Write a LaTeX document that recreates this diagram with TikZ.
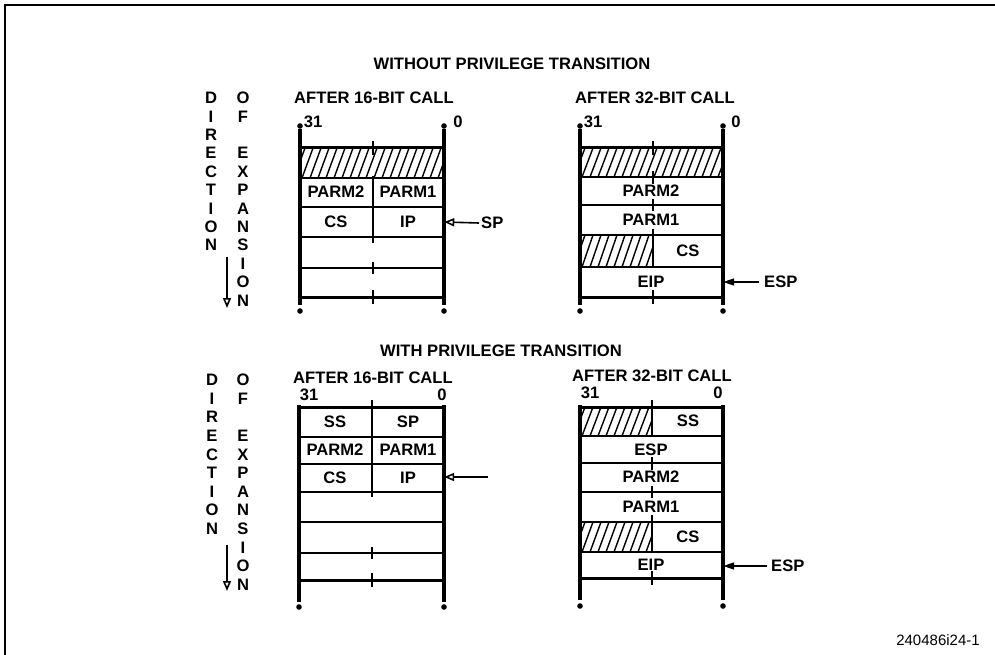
\documentclass[tikz,border=0pt]{standalone}
\usepackage{fontspec}
\setmainfont{Liberation Sans}
\usetikzlibrary{arrows.meta}
\newcommand\hatchbox[4]{%
  \begin{scope}
    \clip (#1,#2) rectangle (#3,#4);
    \foreach \k in {0,...,21} \draw[hatchline] ({#1-14+\k*8},#4) -- ++(11,{#2-#4});
  \end{scope}}
\begin{document}
\begin{tikzpicture}[x=1pt,y=-1pt,
  lbl/.style={font=\bfseries\fontsize{16.6}{18}\selectfont, inner sep=0pt},
  fig/.style={font=\fontsize{15}{17}\selectfont, inner sep=0pt},
  rowbox/.style={draw=none, inner sep=0pt, minimum height=29pt},
  rail/.style={line width=3.2pt},
  thickrow/.style={line width=3pt},
  rowline/.style={line width=1.9pt},
  midline/.style={line width=1.6pt},
  hatchline/.style={line width=1.4pt},
  frameline/.style={line width=2.5pt},
  openarr/.style={line width=1.6pt, -{Triangle[open,length=10pt,width=8pt,line width=1.6pt]}},
  fillarr/.style={line width=1.6pt, -{Triangle[length=11pt,width=7pt]}},
  dirarr/.style={line width=1.6pt, -{Triangle[open,length=10pt,width=8pt,line width=1.6pt]}},
  dotr/.style={fill=black}
]
\useasboundingbox (0,0) rectangle (995,655);
\fill[white] (0,0) rectangle (995,655);
% frame
\draw[frameline] (995,5) -- (5,5) -- (5,655);

% headings
\node[lbl] (h1) at (512,64) {WITHOUT PRIVILEGE TRANSITION};
\node[lbl] (h1a) at (374,98) {AFTER 16-BIT CALL};
\node[lbl] (h1b) at (655,98) {AFTER 32-BIT CALL};
\node[lbl] (h2) at (501,351) {WITH PRIVILEGE TRANSITION};
\node[lbl] (h2a) at (373,378) {AFTER 16-BIT CALL};
\node[lbl] (h2b) at (652,376) {AFTER 32-BIT CALL};
\node[fig] (fignum) at (938,640) {240486i24-1};

% direction of expansion (top)
\foreach \c [count=\i from 0] in {D,I,R,E,C,T,I,O,N}
  \node[lbl] (dA\i) at (211,{98+18.4*\i}) {\c};
\foreach \c/\i in {O/0,F/1,E/3,X/4,P/5,A/6,N/7,S/8,I/9,O/10,N/11}
  \node[lbl] (eA\i) at (243,{98+18.4*\i}) {\c};
\coordinate (dirAs) at (227,257);
\coordinate (dirAe) at (227,308);
\draw[dirarr] (dirAs) -- (dirAe);

% direction of expansion (bottom)
\foreach \c [count=\i from 0] in {D,I,R,E,C,T,I,O,N}
  \node[lbl] (dB\i) at (212,{380+18.6*\i}) {\c};
\foreach \c/\i in {O/0,F/1,E/3,X/4,P/5,A/6,N/7,S/8,I/9,O/10,N/11}
  \node[lbl] (eB\i) at (243,{380+18.6*\i}) {\c};
\coordinate (dirBs) at (227,545);
\coordinate (dirBe) at (227,591);
\draw[dirarr] (dirBs) -- (dirBe);

% ---------- Top-left: without, 16-bit ----------
\hatchbox{300}{148}{444}{178}
\draw[rail] (300,129) -- (300,305);
\draw[rail] (444,129) -- (444,305);
\fill[dotr] (300,126) circle (2.8);
\fill[dotr] (444,126) circle (2.8);
\fill[dotr] (300,311) circle (2.8);
\fill[dotr] (444,311) circle (2.8);
\draw[thickrow] (300,148) -- (444,148);
\draw[rowline] (300,178) -- (444,178);
\draw[rowline] (300,207) -- (444,207);
\draw[rowline] (300,237) -- (444,237);
\draw[rowline] (300,268) -- (444,268);
\draw[thickrow] (300,297) -- (444,297);
\draw[midline] (373,141) -- (373,155);
\draw[midline] (373,176) -- (373,243);
\draw[midline] (373,262) -- (373,274);
\draw[midline] (373,290) -- (373,304);
\node[lbl] (tl31) at (313,122) {31};
\node[lbl] (tl0) at (458,122) {0};
\node[lbl] (tlP2) at (336,192) {PARM2};
\node[lbl] (tlP1) at (408,192) {PARM1};
\node[lbl] (tlCS) at (336,222) {CS};
\node[lbl] (tlIP) at (408,222) {IP};
\node[rowbox, minimum width=144pt] (tlrow3) at (372,222) {};
\node[lbl, inner sep=2pt, anchor=west] (tlSP) at (479,223) {SP};
\draw[openarr] (tlSP.west) -- (tlrow3.east);

% ---------- Top-right: without, 32-bit ----------
\hatchbox{580}{148}{723}{177}
\hatchbox{580}{235}{653}{267}
\draw[rail] (580,129) -- (580,305);
\draw[rail] (723,129) -- (723,305);
\fill[dotr] (580,126) circle (2.8);
\fill[dotr] (723,126) circle (2.8);
\fill[dotr] (580,311) circle (2.8);
\fill[dotr] (723,311) circle (2.8);
\draw[thickrow] (580,148) -- (723,148);
\draw[rowline] (580,177) -- (723,177);
\draw[rowline] (580,205) -- (723,205);
\draw[rowline] (580,235) -- (723,235);
\draw[rowline] (580,267) -- (723,267);
\draw[thickrow] (580,297) -- (723,297);
\draw[midline] (653,141) -- (653,155);
\draw[midline] (653,171) -- (653,184);
\draw[midline] (653,199) -- (653,211);
\draw[midline] (653,229) -- (653,267);
\draw[midline] (653,290) -- (653,304);
\node[lbl] (tr31) at (593,122) {31};
\node[lbl] (tr0) at (736,122) {0};
\node[lbl] (trP2) at (651,191) {PARM2};
\node[lbl] (trP1) at (651,220) {PARM1};
\node[lbl] (trCS) at (688,251) {CS};
\node[lbl] (trEIP) at (651,282) {EIP};
\node[rowbox, minimum width=143pt] (trrow5) at (651.5,282) {};
\node[lbl, inner sep=0pt, anchor=west] (trESP) at (764,282) {ESP};
\draw[fillarr] ([xshift=-5pt]trESP.west) -- (trrow5.east);

% ---------- Bottom-left: with, 16-bit ----------
\draw[rail] (299,405) -- (299,602);
\draw[rail] (444,405) -- (444,602);
\fill[dotr] (299,607) circle (2.8);
\fill[dotr] (444,607) circle (2.8);
\draw[thickrow] (299,407) -- (444,407);
\draw[rowline] (299,437) -- (444,437);
\draw[rowline] (299,464) -- (444,464);
\draw[rowline] (299,492) -- (444,492);
\draw[rowline] (299,522) -- (444,522);
\draw[rowline] (299,553) -- (444,553);
\draw[thickrow] (299,580) -- (444,580);
\draw[midline] (372,400) -- (372,497);
\draw[midline] (372,547) -- (372,559);
\draw[midline] (372,573) -- (372,587);
\node[lbl] (bl31) at (309,395) {31};
\node[lbl] (bl0) at (442,395) {0};
\node[lbl] (blSS) at (335,422) {SS};
\node[lbl] (blSP) at (408,422) {SP};
\node[lbl] (blP2) at (335,450) {PARM2};
\node[lbl] (blP1) at (408,450) {PARM1};
\node[lbl] (blCS) at (335,478) {CS};
\node[lbl] (blIP) at (408,478) {IP};
\node[rowbox, minimum width=145pt, minimum height=28pt] (blrow3) at (371.5,478) {};
\coordinate (blTail) at (488,477);
\draw[openarr] (blTail) -- (blrow3.east |- blTail);

% ---------- Bottom-right: with, 32-bit ----------
\hatchbox{580}{407}{652}{436}
\hatchbox{580}{522}{652}{552}
\draw[rail] (580,405) -- (580,600);
\draw[rail] (723,405) -- (723,600);
\fill[dotr] (580,606) circle (2.8);
\fill[dotr] (723,606) circle (2.8);
\draw[thickrow] (580,407) -- (723,407);
\draw[rowline] (580,436) -- (723,436);
\draw[rowline] (580,463) -- (723,463);
\draw[rowline] (580,492) -- (723,492);
\draw[rowline] (580,522) -- (723,522);
\draw[rowline] (580,552) -- (723,552);
\draw[thickrow] (580,578) -- (723,578);
\draw[midline] (652,400) -- (652,436);
\draw[midline] (652,457) -- (652,470);
\draw[midline] (652,486) -- (652,498);
\draw[midline] (652,515) -- (652,552);
\draw[midline] (652,571) -- (652,585);
\node[lbl] (br31) at (590,393) {31};
\node[lbl] (br0) at (718,393) {0};
\node[lbl] (brSS) at (688,421) {SS};
\node[lbl] (brESPv) at (651,450) {ESP};
\node[lbl] (brP2) at (651,477) {PARM2};
\node[lbl] (brP1) at (651,507) {PARM1};
\node[lbl] (brCS) at (688,537) {CS};
\node[lbl] (brEIP) at (651,565) {EIP};
\node[rowbox, minimum width=143pt, minimum height=26pt] (brrow6) at (651.5,565) {};
\node[lbl, inner sep=0pt, anchor=west] (brESP) at (771,566) {ESP};
\draw[fillarr] ([xshift=-4pt]brESP.west) -- (brrow6.east |- brESP.west);
\end{tikzpicture}
\end{document}
